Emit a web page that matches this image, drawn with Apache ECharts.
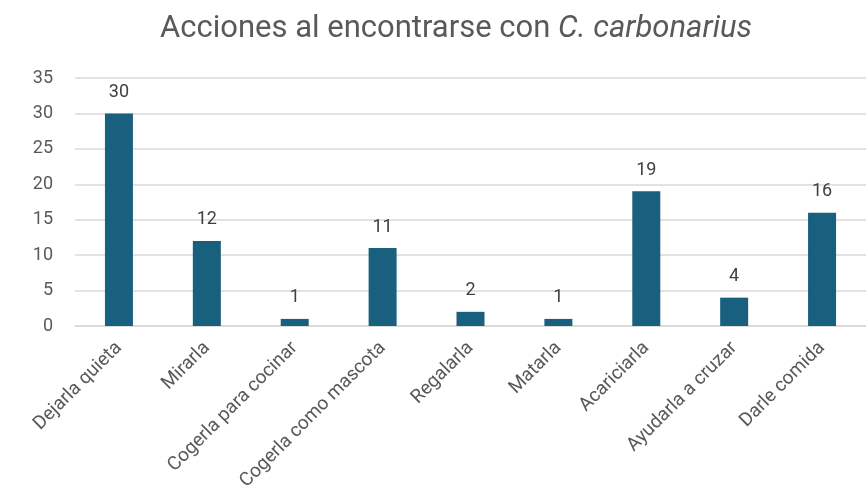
<!DOCTYPE html>
<html>
<head>
<meta charset="utf-8">
<script src="https://cdn.jsdelivr.net/npm/echarts@6/dist/echarts.min.js"></script>
<style>
  html, body { margin: 0; padding: 0; background: #fff; }
  #chart { width: 866px; height: 497px; }
</style>
</head>
<body>
<div id="chart"></div>
<script>
var categories = ["Dejarla quieta", "Mirarla", "Cogerla para cocinar", "Cogerla como mascota",
  "Regalarla", "Matarla", "Acariciarla", "Ayudarla a cruzar", "Darle comida"];
var counts = [30, 12, 1, 11, 2, 1, 19, 4, 16];

var chartDom = document.getElementById("chart");
var myChart = echarts.init(chartDom);
var font = "Roboto, 'Noto Sans', sans-serif";

var option = {
  animation: false,
  title: {
    text: "{n|Acciones al encontrarse con }{i|C. carbonarius}",
    left: 155,
    top: 9,
    textStyle: {
      rich: {
        n: { fontFamily: font, fontSize: 31, fontWeight: "normal", color: "#595959" },
        i: { fontFamily: font, fontSize: 31, fontWeight: "normal", color: "#595959", fontStyle: "italic" }
      }
    }
  },
  grid: { left: 75, right: -6, top: 78, bottom: 171 },
  xAxis: {
    type: "category",
    data: categories,
    axisTick: { show: false },
    axisLine: { lineStyle: { color: "#d9d9d9", width: 1.5 } },
    axisLabel: {
      rotate: 45,
      interval: 0,
      margin: 19,
      fontFamily: font,
      fontSize: 19,
      color: "#595959"
    }
  },
  yAxis: {
    type: "value",
    min: 0,
    max: 35,
    interval: 5,
    axisLine: { show: false },
    axisTick: { show: false },
    splitLine: { lineStyle: { color: "#d9d9d9", width: 1.5 } },
    axisLabel: { margin: 22, fontFamily: font, fontSize: 18, color: "#595959" }
  },
  series: [{
    type: "bar",
    data: counts,
    barWidth: 28,
    itemStyle: { color: "#195f7e" },
    label: {
      show: true,
      position: "top",
      distance: 12,
      fontFamily: font,
      fontSize: 18,
      color: "#404040"
    }
  }]
};

option && myChart.setOption(option);
</script>
</body>
</html>
